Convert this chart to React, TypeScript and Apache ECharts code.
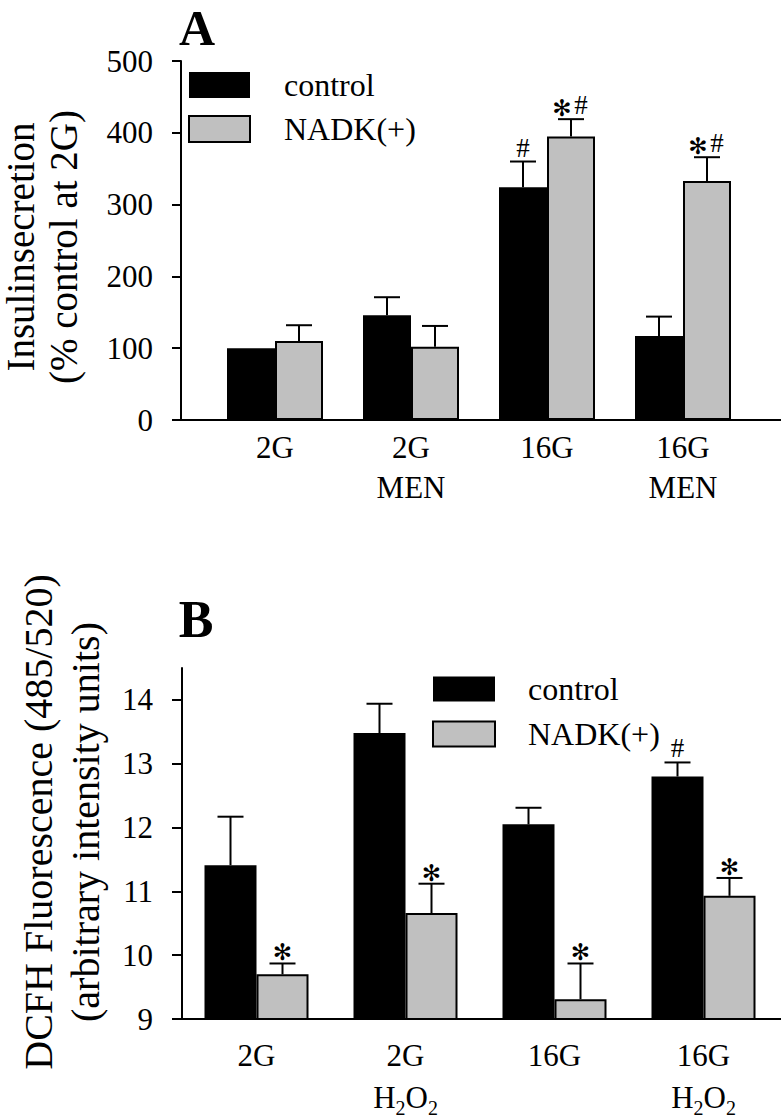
import React, { useEffect, useRef } from 'react';
import * as echarts from 'echarts';

// ---------- Data ----------
const categoriesA = ['2G', '2G\nMEN', '16G', '16G\nMEN'];
const controlA = [100, 146, 324, 117];
const controlErrA: (number | null)[] = [null, 25, 36, 27];
const nadkA = [110, 102, 395, 333];
const nadkErrA: (number | null)[] = [22, 29, 24, 33];
const marksControlA = ['', '', '#', ''];
const marksNadkA = ['', '', '*#', '*#'];
const yTicksA = [0, 100, 200, 300, 400, 500];

const categoriesB = ['2G', '2G\nH2O2', '16G', '16G\nH2O2'];
const controlB = [11.41, 13.48, 12.05, 12.8];
const controlErrB: (number | null)[] = [0.76, 0.46, 0.26, 0.22];
const nadkB = [9.7, 10.66, 9.31, 10.93];
const nadkErrB: (number | null)[] = [0.17, 0.46, 0.56, 0.28];
const marksControlB = ['', '', '', '#'];
const marksNadkB = ['*', '*', '*', '*'];
const yTicksB = [9, 10, 11, 12, 13, 14];

const seriesNames = ['control', 'NADK(+)'];

const FONT = 'Liberation Serif';
const GRAY = '#c0c0c0';

function errorSeries(
  name: string,
  axisIndex: number,
  values: number[],
  errs: (number | null)[],
  marks: string[],
  side: number,
  barW: number
) {
  return {
    type: 'custom',
    name,
    xAxisIndex: axisIndex,
    yAxisIndex: axisIndex,
    z: 5,
    silent: true,
    data: values.map((v, i) => [i, v, errs[i] == null ? v : v + (errs[i] as number), errs[i] == null ? 0 : 1]),
    renderItem: (params: any, api: any) => {
      const i = api.value(0);
      const mean = api.value(1);
      const top = api.value(2);
      const has = api.value(3);
      const pM = api.coord([i, mean]);
      const pT = api.coord([i, top]);
      const cx = pM[0] + (side * barW) / 2;
      const cap = pT[1];
      const children: any[] = [];
      if (has) {
        children.push({
          type: 'line',
          shape: { x1: cx, y1: pM[1], x2: cx, y2: cap },
          style: { stroke: '#000', lineWidth: 2 },
        });
        children.push({
          type: 'line',
          shape: { x1: cx - 13, y1: cap, x2: cx + 13, y2: cap },
          style: { stroke: '#000', lineWidth: 2 },
        });
      }
      const m = marks[params.dataIndex];
      const hash = (x: number) => ({
        type: 'text',
        x,
        y: cap - 14,
        style: {
          text: '#',
          fill: '#000',
          fontSize: 27,
          fontFamily: FONT,
          align: 'center',
          verticalAlign: 'middle',
        },
      });
      const star = (x: number) => ({
        type: 'text',
        x,
        y: cap - 11,
        style: {
          text: '✻',
          fill: '#000',
          fontSize: 23,
          fontWeight: 'bold',
          fontFamily: 'DejaVu Sans',
          align: 'center',
          verticalAlign: 'middle',
        },
      });
      if (m === '#') children.push(hash(cx));
      else if (m === '*') children.push(star(cx));
      else if (m === '*#') {
        children.push(star(cx - 9));
        children.push(hash(cx + 10));
      }
      return { type: 'group', children };
    },
  };
}

function barSeries(name: string, axisIndex: number, values: number[], color: string, border: boolean, barW: number) {
  return {
    type: 'bar',
    name,
    xAxisIndex: axisIndex,
    yAxisIndex: axisIndex,
    data: values,
    barWidth: barW,
    barGap: '0%',
    itemStyle: border
      ? { color, borderColor: '#000', borderWidth: 2 }
      : { color, borderColor: '#000', borderWidth: 0 },
  };
}

const labelStyle = { fontSize: 31, fontFamily: FONT, color: '#000' };

export default function App() {
  const ref = useRef<HTMLDivElement>(null);
  useEffect(() => {
    document.body.style.margin = '0';
    if (!ref.current) return;
    const chart = echarts.init(ref.current, undefined, { renderer: 'svg' });
    const barWA = 48;
    const barWB = 52;
    const option: any = {
      animation: false,
      backgroundColor: '#fff',
      textStyle: { fontFamily: FONT },
      grid: [
        { left: 207, top: 61, width: 544, height: 359 },
        { left: 182, top: 668, width: 596, height: 359 },
      ],
      legend: [
        {
          orient: 'vertical',
          left: 188,
          top: 69,
          padding: 0,
          itemWidth: 61,
          itemHeight: 26,
          itemGap: 12,
          icon: 'rect',
          selectedMode: false,
          data: seriesNames,
          textStyle: { fontSize: 32, fontFamily: FONT, color: '#000', lineHeight: 30, padding: [0, 0, 0, 29] },
        },
        {
          orient: 'vertical',
          left: 432,
          top: 673,
          padding: 0,
          itemWidth: 62,
          itemHeight: 25,
          itemGap: 13,
          icon: 'rect',
          selectedMode: false,
          data: seriesNames,
          textStyle: { fontSize: 32, fontFamily: FONT, color: '#000', lineHeight: 30, padding: [0, 0, 0, 28] },
        },
      ],
      xAxis: [
        {
          type: 'category',
          gridIndex: 0,
          data: categoriesA,
          axisLine: { onZero: false, lineStyle: { color: '#000', width: 2 } },
          axisTick: { show: false },
          axisLabel: { ...labelStyle, margin: 7, lineHeight: 40, interval: 0 },
        },
        {
          type: 'category',
          gridIndex: 1,
          data: categoriesB,
          axisLine: { onZero: false, lineStyle: { color: '#000', width: 2 } },
          axisTick: { show: false },
          axisLabel: {
            ...labelStyle,
            margin: 15,
            lineHeight: 42,
            interval: 0,
            formatter: (v: string) => v.replace('H2O2', '{t|H}{s|2}{t|O}{s|2}'),
            rich: {
              t: { fontSize: 31, fontFamily: FONT, color: '#000', lineHeight: 42 },
              s: { fontSize: 20, fontFamily: FONT, color: '#000', lineHeight: 24, verticalAlign: 'bottom' },
            },
          },
        },
      ],
      yAxis: [
        {
          type: 'value',
          gridIndex: 0,
          min: 0,
          max: 500,
          interval: 100,
          offset: 26,
          axisLine: { show: true, lineStyle: { color: '#000', width: 2 } },
          axisTick: { show: true, length: 9, lineStyle: { color: '#000', width: 2 }, customValues: yTicksA },
          axisLabel: { ...labelStyle, margin: 28, customValues: yTicksA },
          splitLine: { show: false },
        },
        {
          type: 'value',
          gridIndex: 1,
          min: 9,
          max: 14.5,
          interval: 1,
          axisLine: { show: true, onZero: false, lineStyle: { color: '#000', width: 2 } },
          axisTick: { show: true, length: 10, lineStyle: { color: '#000', width: 2 }, customValues: yTicksB },
          axisLabel: { ...labelStyle, margin: 29, customValues: yTicksB },
          splitLine: { show: false },
        },
      ],
      series: [
        barSeries(seriesNames[0], 0, controlA, '#000', false, barWA),
        barSeries(seriesNames[1], 0, nadkA, GRAY, true, barWA),
        barSeries(seriesNames[0], 1, controlB, '#000', false, barWB),
        barSeries(seriesNames[1], 1, nadkB, GRAY, true, barWB),
        errorSeries('control error A', 0, controlA, controlErrA, marksControlA, -1, barWA),
        errorSeries('NADK error A', 0, nadkA, nadkErrA, marksNadkA, 1, barWA),
        errorSeries('control error B', 1, controlB, controlErrB, marksControlB, -1, barWB),
        errorSeries('NADK error B', 1, nadkB, nadkErrB, marksNadkB, 1, barWB),
      ],
      graphic: [
        {
          type: 'text', x: 197, y: 28,
          style: { text: 'A', fontSize: 50, fontWeight: 'bold', fontFamily: FONT, fill: '#000', align: 'center', verticalAlign: 'middle' },
        },
        {
          type: 'text', x: 196, y: 619,
          style: { text: 'B', fontSize: 52, fontWeight: 'bold', fontFamily: FONT, fill: '#000', align: 'center', verticalAlign: 'middle' },
        },
        {
          type: 'text', x: 1, y: 247, rotation: Math.PI / 2,
          style: { text: 'Insulinsecretion', fontSize: 39, fontFamily: FONT, fill: '#000', align: 'center', verticalAlign: 'top' },
        },
        {
          type: 'text', x: 44, y: 247, rotation: Math.PI / 2,
          style: { text: '(% control at 2G)', fontSize: 39, fontFamily: FONT, fill: '#000', align: 'center', verticalAlign: 'top' },
        },
        {
          type: 'text', x: 38, y: 822, rotation: Math.PI / 2,
          style: { text: 'DCFH Fluorescence (485/520)', fontSize: 40, fontFamily: FONT, fill: '#000', align: 'center', verticalAlign: 'middle' },
        },
        {
          type: 'text', x: 85, y: 822, rotation: Math.PI / 2,
          style: { text: '(arbitrary intensity units)', fontSize: 40, fontFamily: FONT, fill: '#000', align: 'center', verticalAlign: 'middle' },
        },
      ],
    };
    chart.setOption(option);
    // Extend the x-axis baselines across the tick length on the left and to the right edge
    const yA = chart.convertToPixel({ yAxisIndex: 0 }, 0) as number;
    const yB = chart.convertToPixel({ yAxisIndex: 1 }, 9) as number;
    chart.setOption({
      graphic: [
        {}, {}, {}, {}, {}, {},
        { type: 'line', shape: { x1: 172, y1: yA, x2: 781, y2: yA }, style: { stroke: '#000', lineWidth: 2 }, z: 10 },
        { type: 'line', shape: { x1: 172, y1: yB, x2: 781, y2: yB }, style: { stroke: '#000', lineWidth: 2 }, z: 10 },
      ],
    });
    return () => chart.dispose();
  }, []);
  return <div ref={ref} style={{ width: 782, height: 1118 }} />;
}
